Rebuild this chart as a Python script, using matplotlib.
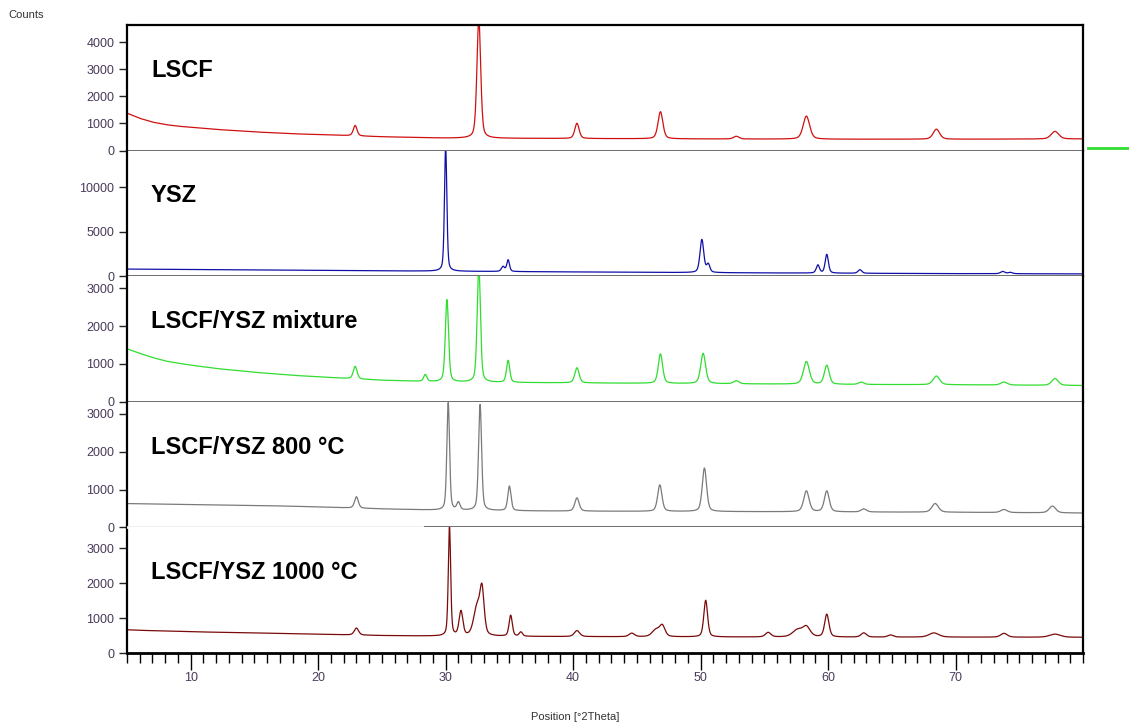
import numpy as np
import matplotlib
matplotlib.use("Agg")
import matplotlib.pyplot as plt
from matplotlib.ticker import MultipleLocator

plt.rcParams['font.family'] = ['Liberation Sans', 'DejaVu Sans']

# panel labels, colours and y ranges
labels = ["LSCF", "YSZ", "LSCF/YSZ mixture", "LSCF/YSZ 800 °C", "LSCF/YSZ 1000 °C"]
colors = ["#d01010", "#1010a8", "#30dd30", "#7a7a7a", "#7a0a0a"]
ymax = [4630, 14100, 3320, 3320, 3600]
yticks = [[0, 1000, 2000, 3000, 4000], [0, 5000, 10000],
          [0, 1000, 2000, 3000], [0, 1000, 2000, 3000], [0, 1000, 2000, 3000]]
xticks = [10, 20, 30, 40, 50, 60, 70]

# background (2theta, counts)
bg_x = [5, 6, 7, 8, 9, 10, 12, 15, 18, 21, 25, 30, 40, 50, 60, 70, 80]
bg_lscf = [1380, 1190, 1050, 960, 900, 860, 780, 690, 620, 575, 510, 460, 445, 430, 420, 420, 430]
bg_ysz = [800, 790, 780, 770, 760, 750, 730, 700, 670, 640, 600, 560, 480, 400, 340, 290, 260]
bg_mix = [1400, 1280, 1170, 1080, 1020, 970, 880, 780, 700, 640, 570, 520, 500, 480, 460, 450, 430]
bg_800 = [630, 625, 620, 615, 610, 605, 595, 580, 560, 530, 490, 450, 430, 420, 410, 400, 380]
bg_1000 = [665, 650, 640, 630, 620, 610, 595, 575, 555, 530, 500, 480, 470, 460, 455, 455, 450]

# peaks: position, height above background, fwhm
pk_lscf = [(22.9, 380, 0.35), (32.6, 4400, 0.35), (40.3, 560, 0.4), (46.85, 1000, 0.45),
           (52.8, 100, 0.5), (58.3, 850, 0.6), (68.5, 370, 0.6), (77.8, 280, 0.7)]
pk_ysz = [(30.0, 14000, 0.22), (34.5, 550, 0.3), (34.9, 1300, 0.25), (50.1, 3700, 0.35),
          (50.6, 900, 0.3), (59.2, 900, 0.3), (59.9, 2100, 0.3), (62.5, 400, 0.35),
          (73.7, 250, 0.4), (74.3, 150, 0.4)]
pk_mix = [(22.9, 330, 0.35), (28.4, 180, 0.3), (30.1, 2180, 0.3), (32.6, 3100, 0.3),
          (34.9, 580, 0.3), (40.3, 400, 0.4), (46.85, 780, 0.4), (50.2, 800, 0.45),
          (52.8, 80, 0.5), (58.3, 600, 0.55), (59.9, 500, 0.45), (62.6, 60, 0.5),
          (68.5, 230, 0.6), (73.8, 80, 0.6), (77.8, 180, 0.6)]
pk_800 = [(23.0, 300, 0.35), (30.2, 2850, 0.25), (31.0, 200, 0.3), (32.7, 2800, 0.28),
          (35.0, 650, 0.3), (40.3, 350, 0.4), (46.8, 700, 0.4), (50.3, 1150, 0.4),
          (58.3, 550, 0.5), (59.9, 550, 0.45), (62.8, 80, 0.5), (68.4, 230, 0.6),
          (73.8, 80, 0.6), (77.6, 180, 0.6)]
pk_1000 = [(23.0, 200, 0.4), (30.3, 3150, 0.22), (31.2, 700, 0.35), (32.45, 800, 0.6),
           (32.85, 1250, 0.4), (35.1, 600, 0.3), (35.9, 120, 0.3), (40.3, 170, 0.5),
           (44.6, 100, 0.5), (46.5, 200, 0.7), (47.0, 300, 0.5), (50.4, 1050, 0.35),
           (55.3, 130, 0.5), (57.6, 200, 0.9), (58.3, 280, 0.7), (59.9, 650, 0.4),
           (62.8, 120, 0.5), (64.9, 60, 0.5), (68.3, 120, 0.9), (73.8, 110, 0.6),
           (77.8, 90, 1.0)]

backgrounds = [bg_lscf, bg_ysz, bg_mix, bg_800, bg_1000]
peaks = [pk_lscf, pk_ysz, pk_mix, pk_800, pk_1000]

x = np.linspace(5, 80, 4000)


def pattern(bg, pk):
    y = np.interp(x, bg_x, bg)
    for pos, h, w in pk:
        g = np.exp(-4 * np.log(2) * ((x - pos) / w) ** 2)
        l = 1 / (1 + 4 * ((x - pos) / w) ** 2)
        y = y + h * (0.6 * g + 0.4 * l)
    return y


W, H = 1129, 727
fig = plt.figure(figsize=(W / 100, H / 100), dpi=100)
left, right, top, bottom = 127, 1083, 25, 653
ph = (bottom - top) / 5
tick_col = "#4a3a5a"

axes = []
for i in range(5):
    y0 = H - (top + ph * (i + 1))
    ax = fig.add_axes([left / W, y0 / H, (right - left) / W, ph / H])
    ax.plot(x, pattern(backgrounds[i], peaks[i]), color=colors[i], lw=0.9)
    ax.set_xlim(5, 80)
    ax.set_ylim(0, ymax[i])
    ax.set_yticks(yticks[i])
    ax.tick_params(axis='y', direction='out', length=6, width=1, colors='#222222',
                   labelcolor=tick_col, labelsize=9, pad=3)
    for s in ['left', 'right', 'top']:
        ax.spines[s].set_color('black')
        ax.spines[s].set_linewidth(1.6)
    if i > 0:
        ax.spines['top'].set_visible(False)
    if i < 4:
        ax.spines['bottom'].set_color('#6e6e6e')
        ax.spines['bottom'].set_linewidth(1.4)
        ax.set_xticks([])
    else:
        ax.spines['bottom'].set_color('black')
        ax.spines['bottom'].set_linewidth(2)
        ax.set_xticks(xticks)
        ax.xaxis.set_minor_locator(MultipleLocator(1))
        ax.tick_params(axis='x', which='major', direction='out', length=12, width=1,
                       labelcolor=tick_col, labelsize=9, pad=2)
        ax.tick_params(axis='x', which='minor', direction='out', length=7, width=1)
    ax.text(0.025, 0.64, labels[i], transform=ax.transAxes, fontsize=17,
            fontweight='bold', color='black', va='center', ha='left')
    axes.append(ax)

# white gap on separator between 800 and 1000 panels
fig.add_artist(plt.Line2D([left / W + 0.001, 422 / W], [(H - (top + ph * 4)) / H] * 2,
                          color='white', lw=2))
# small green mark at right
fig.add_artist(plt.Line2D([1088 / W, 1129 / W], [(H - 148) / H] * 2, color='#30dd30', lw=2))

fig.text(8 / W, (H - 15) / H, "Counts", fontsize=8, color='#333333', va='center')
fig.text(575 / W, (H - 717) / H, "Position [°2Theta]", fontsize=8, color='#333333',
         ha='center', va='center')

fig.savefig("out.png", dpi=100)
